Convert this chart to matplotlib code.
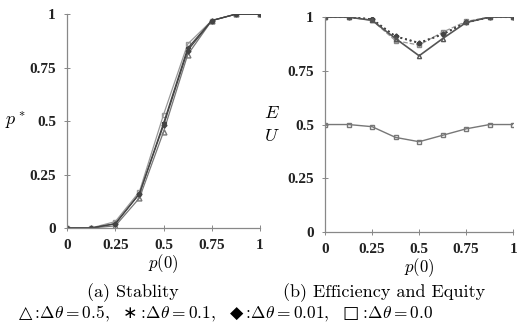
import matplotlib
matplotlib.use("Agg")
import matplotlib.pyplot as plt

plt.rcParams['mathtext.fontset'] = 'cm'
plt.rcParams['font.family'] = ['Liberation Serif', 'DejaVu Serif']

p0 = [0, 0.125, 0.25, 0.375, 0.5, 0.625, 0.75, 0.875, 1.0]

# (a) Stability p*
stab_tri = [0, 0, 0.01, 0.14, 0.45, 0.81, 0.97, 1.0, 1.0]
stab_star = [0, 0, 0.02, 0.16, 0.49, 0.84, 0.97, 1.0, 1.0]
stab_dia = [0, 0, 0.02, 0.16, 0.48, 0.83, 0.97, 1.0, 1.0]
stab_sq = [0, 0, 0.03, 0.17, 0.53, 0.86, 0.97, 1.0, 1.0]

# (b) Efficiency (E) and Equity (U)
eff_tri = [1.0, 1.0, 0.985, 0.90, 0.82, 0.90, 0.975, 1.0, 1.0]
eff_star = [1.0, 1.0, 0.99, 0.91, 0.88, 0.92, 0.975, 1.0, 1.0]
eff_dia = [1.0, 1.0, 0.99, 0.91, 0.88, 0.92, 0.975, 1.0, 1.0]
eff_sq = [1.0, 1.0, 0.985, 0.89, 0.87, 0.93, 0.98, 1.0, 1.0]
equ = [0.5, 0.5, 0.49, 0.44, 0.42, 0.45, 0.48, 0.5, 0.5]

ticks = [0, 0.25, 0.5, 0.75, 1]
tick_labels = ['0', '0.25', '0.5', '0.75', '1']

fig = plt.figure(figsize=(5.2, 3.29), dpi=100)
ax1 = fig.add_axes([0.129, 0.307, 0.371, 0.650])
ax2 = fig.add_axes([0.625, 0.295, 0.362, 0.653])

grey = '#777777'
dark = '#444444'

ms = 3.5
ax1.plot(p0, stab_sq, color='#999999', lw=0.9, marker='s', ms=ms, mfc='none', mec='#999999')
ax1.plot(p0, stab_tri, color=grey, lw=0.9, marker='^', ms=ms, mfc='none', mec=grey)
ax1.plot(p0, stab_star, color=dark, lw=0.9, marker='*', ms=ms, mfc=dark, mec=dark)
ax1.plot(p0, stab_dia, color=dark, lw=0.9, marker='D', ms=2.5, mfc=dark, mec=dark)

ax2.plot(p0, eff_sq, color='#999999', lw=0.9, ls='--', marker='s', ms=ms, mfc='#bbbbbb', mec='#888888')
ax2.plot(p0, eff_star, color=dark, lw=1.3, ls=':', marker='*', ms=ms, mfc=dark, mec=dark)
ax2.plot(p0, eff_dia, color=dark, lw=1.3, ls=':', marker='D', ms=2.5, mfc=dark, mec=dark)
ax2.plot(p0, eff_tri, color='#555555', lw=1.2, ls='-', marker='^', ms=3, mfc='none', mec='#555555')
ax2.plot(p0, equ, color=grey, lw=1.0, ls='-', marker='s', ms=3, mfc='none', mec=grey)

for ax in (ax1, ax2):
    ax.set_xlim(0, 1)
    ax.set_ylim(0, 1)
    ax.set_xticks(ticks)
    ax.set_xticklabels(tick_labels)
    ax.set_yticks(ticks)
    ax.set_yticklabels(tick_labels)
    for s in ('top', 'right'):
        ax.spines[s].set_visible(False)
    for s in ('left', 'bottom'):
        ax.spines[s].set_color('#888888')
        ax.spines[s].set_linewidth(0.9)
    ax.tick_params(direction='inout', length=4, width=0.7, color='#888888',
                   labelsize=11, pad=6, labelcolor='#222222')
    for lab in ax.get_xticklabels() + ax.get_yticklabels():
        lab.set_fontweight('bold')
    ax.set_xlabel('$p(0)$', fontsize=12, labelpad=0)
    ax.patch.set_alpha(0)

ax1.set_ylabel('$p^*$', fontsize=13, rotation=0, va='center')
ax1.yaxis.set_label_coords(-0.27, 0.5)
fig.text(0.523, 0.655, '$E$', fontsize=13, ha='center', va='center')
fig.text(0.523, 0.585, '$U$', fontsize=13, ha='center', va='center')

fig.text(0.167, 0.112, '(a) Stablity', fontsize=13, ha='left', va='center',
         family='cmr10')
fig.text(0.545, 0.112, '(b) Efficiency and Equity', fontsize=13, ha='left', va='center',
         family='cmr10')
fig.text(0.035, 0.045,
         '\u25B3'
         r'$:\!\Delta\theta = 0.5,$  '
         '\u2217'
         r'$:\!\Delta\theta = 0.1,$  '
         '\u25C6'
         r'$:\!\Delta\theta = 0.01,$  '
         '\u25A1'
         r'$:\!\Delta\theta = 0.0$',
         fontsize=12.5, ha='left', va='center', family=['DejaVu Sans'])

fig.savefig('out.png', dpi=100)
